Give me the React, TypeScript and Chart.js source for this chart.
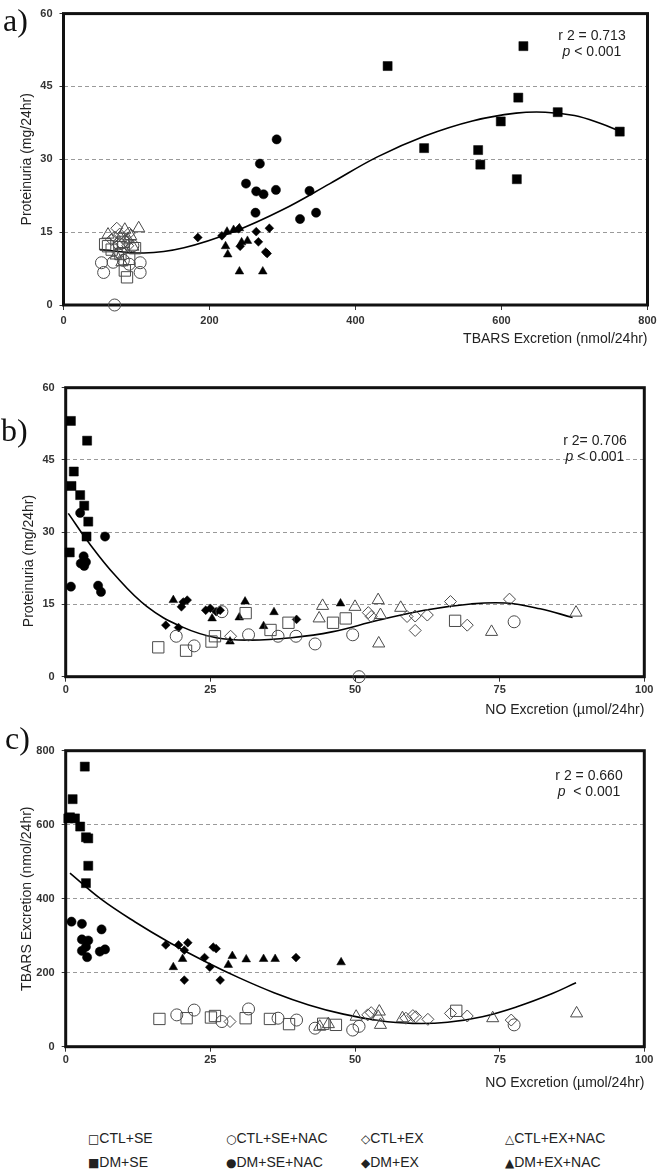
import React, { useEffect, useRef } from "react";
import { Chart, registerables } from "chart.js";
Chart.register(...registerables);

type Pt = [number, number];

const GROUP_LABELS = ["CTL+SE", "CTL+SE+NAC", "CTL+EX", "CTL+EX+NAC", "DM+SE", "DM+SE+NAC", "DM+EX", "DM+EX+NAC"];
const LEGEND_SYMBOLS = ["□", "○", "◇", "△", "■", "●", "◆", "▲"];

// ---------- Panel a: Proteinuria vs TBARS ----------
const A_CTL_SE: Pt[] = [[61, 12.1], [98, 11.7], [87, 5.7], [84, 7.1], [78, 10.5], [90, 9.5], [66, 11.4], [82, 13], [57, 12.5]];
const A_CTL_SE_NAC: Pt[] = [[52, 8.7], [55, 6.7], [105, 8.7], [105, 6.7], [70, 0], [82, 9.2], [90, 8.4], [76, 12.6], [95, 12.2], [68, 8.8]];
const A_CTL_EX: Pt[] = [[73, 15.8], [77, 14.6], [80, 12.5], [85, 13.2], [70, 14], [90, 14.8], [75, 10.8], [88, 12.2], [66, 13.5]];
const A_CTL_EX_NAC: Pt[] = [[103, 15.8], [61, 14.5], [88, 13.5], [92, 14.2], [72, 10.2], [80, 8.8], [95, 12], [84, 15.5], [78, 13.8]];
const A_DM_SE: Pt[] = [[444, 49.2], [630, 53.3], [623, 42.7], [677, 39.7], [599, 37.8], [762, 35.7], [494, 32.3], [568, 31.9], [571, 28.9], [621, 25.9]];
const A_DM_SE_NAC: Pt[] = [[292, 34.1], [269, 29.1], [250, 25.0], [264, 23.4], [274, 22.8], [291, 23.7], [337, 23.5], [263, 19.0], [324, 17.7], [346, 19.0]];
const A_DM_EX: Pt[] = [[184, 13.9], [217, 14.25], [240, 15.7], [264, 15.1], [282, 15.8], [267, 13.0], [242, 12.1], [279, 10.6], [277, 10.9]];
const A_DM_EX_NAC: Pt[] = [[224, 15.1], [233, 15.45], [241, 15.8], [222, 12.1], [225, 10.4], [244, 12.9], [252, 13.2], [241, 6.9], [273, 6.9]];
const A_FIT: Pt[] = [[50, 11.4], [110, 10.7], [165, 11.8], [235, 15.2], [300, 19.6], [365, 25.0], [430, 30.5], [495, 34.8], [560, 37.9], [620, 39.5], [660, 39.7], [700, 39.0], [735, 37.4], [765, 35.6]];

// ---------- Panel b: Proteinuria vs NO ----------
const B_CTL_SE: Pt[] = [[16.0, 6.1], [20.8, 5.4], [25.2, 7.3], [25.8, 8.4], [31.1, 13.2], [35.4, 9.7], [38.5, 11.2], [46.2, 11.2], [48.4, 12.1], [67.3, 11.6]];
const B_CTL_SE_NAC: Pt[] = [[19.1, 8.4], [22.2, 6.4], [27.0, 13.5], [31.6, 8.7], [36.7, 8.4], [39.8, 8.4], [43.1, 6.8], [49.6, 8.7], [50.7, 0], [77.5, 11.4]];
const B_CTL_EX: Pt[] = [[28.5, 8.4], [52.3, 13.3], [52.8, 12.5], [59.0, 12.5], [60.4, 12.6], [62.5, 12.8], [60.4, 9.6], [66.5, 15.6], [69.4, 10.7], [76.7, 16.1]];
const B_CTL_EX_NAC: Pt[] = [[44.4, 14.7], [43.8, 12.1], [50.0, 14.5], [54.0, 15.9], [54.4, 12.8], [54.1, 6.9], [57.9, 14.3], [73.6, 9.3], [88.2, 13.3]];
const B_DM_SE: Pt[] = [[0.9, 53.1], [3.7, 49.0], [1.4, 42.6], [1.0, 39.6], [2.5, 37.7], [3.2, 35.5], [3.9, 32.2], [3.6, 29.1], [0.7, 25.8]];
const B_DM_SE_NAC: Pt[] = [[2.5, 34.0], [6.8, 29.1], [0.9, 18.7], [2.6, 23.5], [3.2, 23.0], [3.5, 23.8], [3.1, 25.0], [5.6, 18.9], [6.1, 17.6]];
const B_DM_EX: Pt[] = [[17.3, 10.7], [19.5, 10.2], [20.3, 15.5], [21.0, 15.9], [20.0, 14.5], [24.2, 13.8], [25.0, 14.2], [26.0, 13.5], [26.7, 13.8], [39.9, 11.9]];
const B_DM_EX_NAC: Pt[] = [[18.6, 15.9], [25.3, 12.1], [28.4, 7.3], [30.0, 12.3], [31.0, 15.6], [34.2, 10.5], [36.0, 13.4], [47.5, 15.2]];
const B_FIT: Pt[] = [[0.45, 33.9], [4, 27.8], [8.5, 21.1], [14, 14.6], [20, 10.4], [26, 8.1], [32, 7.6], [39, 8.1], [46, 9.3], [54, 11.7], [62, 13.8], [70, 15.1], [76, 15.3], [82, 14.1], [87.6, 12.3]];

// ---------- Panel c: TBARS vs NO ----------
const C_CTL_SE: Pt[] = [[16.2, 75], [20.9, 77], [25.1, 79], [25.8, 83], [31.1, 77], [35.3, 75], [38.6, 61], [44.5, 62], [46.7, 59], [67.5, 97]];
const C_CTL_SE_NAC: Pt[] = [[19.2, 86], [22.2, 99], [27.0, 68], [31.6, 102], [36.7, 77], [39.9, 72], [43.1, 50], [49.6, 45], [50.7, 55], [77.5, 59]];
const C_CTL_EX: Pt[] = [[28.4, 68], [52.2, 86], [52.8, 92], [58.8, 77], [60.5, 81], [62.6, 74], [66.5, 90], [69.4, 83], [77.0, 72], [60.0, 84]];
const C_CTL_EX_NAC: Pt[] = [[43.9, 54], [45.4, 61], [50.2, 81], [54.2, 95], [54.4, 59], [54.0, 81], [58.2, 77], [73.8, 77], [88.3, 90]];
const C_DM_SE: Pt[] = [[3.3, 757], [1.2, 669], [0.74, 620], [1.6, 617], [2.5, 595], [3.5, 566], [3.9, 563], [3.9, 489], [3.5, 442], [0.45, 617]];
const C_DM_SE_NAC: Pt[] = [[1.0, 338], [2.8, 332], [2.8, 290], [3.9, 287], [2.8, 259], [3.7, 242], [6.2, 317], [5.9, 257], [6.8, 263], [3.5, 270]];
const C_DM_EX: Pt[] = [[17.3, 275], [19.5, 275], [21.1, 281], [20.5, 261], [20.5, 180], [24.0, 241], [24.9, 215], [25.5, 269], [26.0, 265], [26.7, 180], [39.8, 241]];
const C_DM_EX_NAC: Pt[] = [[18.6, 215], [20.2, 237], [28.1, 221], [28.8, 245], [31.2, 236], [34.2, 237], [36.2, 237], [47.6, 228]];
const C_FIT: Pt[] = [[0.74, 469], [6, 400], [12, 337], [18, 281], [24, 231], [30, 186], [36, 146], [42, 113], [48, 88], [54, 71], [60, 63], [66, 66], [72, 81], [78, 108], [84, 143], [88.2, 173]];

// marker styles per group (order = GROUP_LABELS)
const SHAPES = [
  { pointStyle: "rect", filled: false, radius: 8 },
  { pointStyle: "circle", filled: false, radius: 6 },
  { pointStyle: "rectRot", filled: false, radius: 6 },
  { pointStyle: "triangle", filled: false, radius: 7 },
  { pointStyle: "rect", filled: true, radius: 6.4 },
  { pointStyle: "circle", filled: true, radius: 4.6 },
  { pointStyle: "rectRot", filled: true, radius: 4.4 },
  { pointStyle: "triangle", filled: true, radius: 5 },
];

const SANS = "Arial, 'Liberation Sans', sans-serif";

interface PanelDef {
  top: number;
  height: number;
  padTop: number;
  padRight: number;
  yWidth: number;
  xHeight: number;
  xMax: number;
  xStep: number;
  yMax: number;
  yStep: number;
  xTitle: string;
  yTitle: string | null;
  xTickPad: number;
  xTitlePad: number;
  groups: Pt[][];
  fit: Pt[];
}

const PANELS: PanelDef[] = [
  {
    top: 0, height: 350, padTop: 7.3, padRight: 14.5, yWidth: 63.5, xHeight: 45,
    xMax: 800, xStep: 200, yMax: 60, yStep: 15,
    xTitle: "TBARS Excretion (nmol/24hr)", yTitle: "Proteinuria (mg/24hr)",
    xTickPad: 4, xTitlePad: 2,
    groups: [A_CTL_SE, A_CTL_SE_NAC, A_CTL_EX, A_CTL_EX_NAC, A_DM_SE, A_DM_SE_NAC, A_DM_EX, A_DM_EX_NAC],
    fit: A_FIT,
  },
  {
    top: 350, height: 370, padTop: 37.7, padRight: 17.7, yWidth: 65.7, xHeight: 43.3,
    xMax: 100, xStep: 25, yMax: 60, yStep: 15,
    xTitle: "NO Excretion (µmol/24hr)", yTitle: null,
    xTickPad: 2, xTitlePad: 1.6,
    groups: [B_CTL_SE, B_CTL_SE_NAC, B_CTL_EX, B_CTL_EX_NAC, B_DM_SE, B_DM_SE_NAC, B_DM_EX, B_DM_EX_NAC],
    fit: B_FIT,
  },
  {
    top: 720, height: 380, padTop: 30.7, padRight: 17.7, yWidth: 65.7, xHeight: 53.3,
    xMax: 100, xStep: 25, yMax: 800, yStep: 200,
    xTitle: "NO Excretion (µmol/24hr)", yTitle: "TBARS Excretion (nmol/24hr)",
    xTickPad: 2, xTitlePad: 8.6,
    groups: [C_CTL_SE, C_CTL_SE_NAC, C_CTL_EX, C_CTL_EX_NAC, C_DM_SE, C_DM_SE_NAC, C_DM_EX, C_DM_EX_NAC],
    fit: C_FIT,
  },
];

const framePlugin = {
  id: "frame",
  beforeDatasetsDraw(chart: any) {
    const { ctx, chartArea } = chart;
    const { left, top, right, bottom } = chartArea;
    ctx.save();
    ctx.lineWidth = 3;
    ctx.strokeStyle = "#111";
    ctx.strokeRect(left, top, right - left, bottom - top);
    ctx.restore();
  },
};

function ScatterPanel({ def }: { def: PanelDef }) {
  const ref = useRef<HTMLCanvasElement | null>(null);
  useEffect(() => {
    const datasets: any[] = def.groups.map((pts, i) => {
      const s = SHAPES[i];
      return {
        label: GROUP_LABELS[i],
        data: pts.map(([x, y]) => ({ x, y })),
        pointStyle: s.pointStyle,
        pointRadius: s.radius,
        pointBackgroundColor: s.filled ? "#000" : "rgba(255,255,255,0)",
        pointBorderColor: s.filled ? "#000" : "#4a4a4a",
        pointBorderWidth: s.filled ? 0.5 : 1,
        showLine: false,
        clip: false,
      };
    });
    datasets.push({
      label: "fit",
      data: def.fit.map(([x, y]) => ({ x, y })),
      showLine: true,
      borderColor: "#000",
      borderWidth: 1.6,
      pointRadius: 0,
      tension: 0.4,
      fill: false,
      clip: false,
    });
    const tickFont = { family: SANS, size: 11, weight: "bold" as const };
    const titleFont = { family: SANS, size: 14 };
    const chart = new Chart(ref.current as HTMLCanvasElement, {
      type: "scatter",
      data: { datasets },
      options: {
        responsive: false,
        animation: false,
        events: [],
        layout: { padding: { top: def.padTop, right: def.padRight, left: 0, bottom: 0 } },
        plugins: { legend: { display: false }, tooltip: { enabled: false } },
        scales: {
          x: {
            type: "linear",
            min: 0,
            max: def.xMax,
            ticks: { stepSize: def.xStep, font: tickFont, color: "#333", padding: def.xTickPad },
            grid: { drawOnChartArea: false, drawTicks: true, tickLength: 5, tickColor: "#333" },
            border: { display: false },
            title: {
              display: true,
              text: def.xTitle,
              align: "end",
              font: titleFont,
              color: "#222",
              padding: { top: 0, bottom: def.xTitlePad },
            },
            afterFit: (s: any) => {
              s.height = def.xHeight;
            },
          },
          y: {
            type: "linear",
            min: 0,
            max: def.yMax,
            ticks: { stepSize: def.yStep, font: tickFont, color: "#333", padding: 7 },
            grid: { color: "#9a9a9a", lineWidth: 1, drawTicks: true, tickLength: 4, tickColor: "#333" },
            border: { display: false, dash: [4, 3] },
            title: {
              display: !!def.yTitle,
              text: def.yTitle || "",
              font: titleFont,
              color: "#222",
              padding: { top: 19, bottom: 0 },
            },
            afterFit: (s: any) => {
              s.width = def.yWidth;
            },
          },
        },
      } as any,
      plugins: [framePlugin],
    });
    return () => chart.destroy();
  }, [def]);
  return (
    <canvas
      ref={ref}
      width={662}
      height={def.height}
      style={{ position: "absolute", left: 0, top: def.top, width: 662, height: def.height, display: "block" }}
    />
  );
}

const STATS = [
  { x: 592, y: 35, r: "r 2 = 0.713", p: "< 0.001" },
  { x: 595, y: 440, r: "r 2= 0.706", p: "< 0.001" },
  { x: 589, y: 775, r: "r 2 = 0.660", p: "\u00a0< 0.001" },
];
const PANEL_LETTERS = [
  { t: "a)", x: 3, y: 4 },
  { t: "b)", x: 1, y: 414 },
  { t: "c)", x: 5, y: 722 },
];
const LEGEND_COLS = [88, 226, 361, 505];
const LEGEND_ROWS = [1138, 1162];

export default function App() {
  return (
    <div style={{ position: "absolute", left: 0, top: 0, width: 662, height: 1173, background: "#fff", overflow: "hidden", fontFamily: SANS }}>
      {PANELS.map((d, i) => (
        <ScatterPanel key={i} def={d} />
      ))}
      {PANEL_LETTERS.map((l, i) => (
        <div key={"l" + i} style={{ position: "absolute", left: l.x, top: l.y, fontFamily: "'Liberation Serif', 'Times New Roman', serif", fontSize: 32, lineHeight: "32px", color: "#111" }}>
          {l.t}
        </div>
      ))}
      {STATS.map((s, i) => (
        <div key={"s" + i} style={{ position: "absolute", left: s.x, top: s.y - 8, transform: "translateX(-50%)", fontSize: 14, lineHeight: "16px", color: "#222", textAlign: "center", whiteSpace: "nowrap" }}>
          <div>{s.r}</div>
          <div>
            <i>p</i> {s.p}
          </div>
        </div>
      ))}
      <div style={{ position: "absolute", left: 27.5, top: 561, transform: "translate(-50%, -50%) rotate(-90deg)", fontSize: 14, color: "#222", whiteSpace: "nowrap" }}>
        Proteinuria (mg/24hr)
      </div>
      {GROUP_LABELS.map((g, i) => (
        <div key={"g" + i} style={{ position: "absolute", left: LEGEND_COLS[i % 4], top: LEGEND_ROWS[Math.floor(i / 4)] - 9, fontSize: 14, lineHeight: "18px", color: "#222", whiteSpace: "nowrap" }}>
          <span style={{ fontFamily: "'DejaVu Sans', sans-serif", fontSize: 12 }}>{LEGEND_SYMBOLS[i]}</span>
          {g}
        </div>
      ))}
    </div>
  );
}
